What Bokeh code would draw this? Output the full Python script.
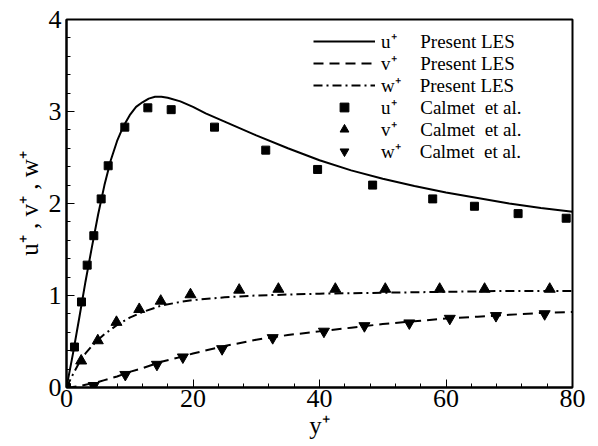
from bokeh.plotting import figure
from bokeh.models import Range1d, SingleIntervalTicker, Legend, LegendItem
from bokeh.embed import file_html
from bokeh.resources import INLINE

# ---- data ----
les_y = [0, 1, 2, 3, 4, 5, 6, 7, 8, 9, 10, 11, 12, 13, 14, 15, 16, 18, 20, 22, 25,
         30, 35, 40, 45, 50, 55, 60, 65, 70, 75, 80]
les_u = [0, 0.36, 0.75, 1.15, 1.52, 1.88, 2.20, 2.47, 2.68, 2.84, 2.96, 3.05, 3.10,
         3.14, 3.16, 3.16, 3.15, 3.11, 3.05, 2.98, 2.89, 2.74, 2.60, 2.47, 2.36,
         2.27, 2.19, 2.12, 2.06, 2.00, 1.95, 1.91]

les_vw_y = [0, 1, 2, 3, 4, 5, 6, 8, 10, 12, 15, 18, 20, 25, 30, 35, 40, 45, 50, 55,
            60, 65, 70, 75, 80]
les_dash = [0, 0.005, 0.015, 0.03, 0.045, 0.06, 0.08, 0.12, 0.17, 0.21, 0.28, 0.33,
            0.37, 0.45, 0.52, 0.57, 0.61, 0.65, 0.69, 0.72, 0.75, 0.77, 0.79, 0.81, 0.82]
les_dashdot = [0, 0.14, 0.27, 0.37, 0.45, 0.52, 0.58, 0.68, 0.76, 0.82, 0.89, 0.93,
               0.95, 0.98, 1.00, 1.01, 1.02, 1.025, 1.03, 1.035, 1.04, 1.045, 1.05,
               1.05, 1.05]

cal_u_y = [0, 1.26, 2.37, 3.27, 4.32, 5.48, 6.59, 9.22, 12.86, 16.55, 23.4, 31.5,
           39.7, 48.4, 57.9, 64.5, 71.4, 79.0]
cal_u = [0, 0.44, 0.93, 1.33, 1.65, 2.05, 2.41, 2.83, 3.04, 3.02, 2.83, 2.58, 2.37,
         2.20, 2.05, 1.97, 1.89, 1.84]

cal_v_y = [2.32, 4.95, 7.9, 11.5, 14.9, 19.6, 27.3, 33.5, 42.5, 50.4, 59.0, 66.1, 76.4]
cal_v = [0.29, 0.51, 0.71, 0.85, 0.94, 1.01, 1.06, 1.07, 1.07, 1.07, 1.07, 1.07, 1.07]

cal_w_y = [4.3, 9.3, 14.3, 18.4, 24.6, 32.6, 40.7, 47.1, 54.2, 60.6, 67.9, 75.6]
cal_w = [0.02, 0.14, 0.25, 0.33, 0.42, 0.54, 0.61, 0.67, 0.70, 0.75, 0.78, 0.80]

x_ticks_interval = 20
y_ticks_interval = 1

SUP = "\u207a"
NB = "\u00a0"
labels = [
    "u" + SUP + NB * 5 + "Present LES",
    "v" + SUP + NB * 5 + "Present LES",
    "w" + SUP + NB * 4 + "Present LES",
    "u" + SUP + NB * 5 + "Calmet" + NB * 2 + "et al.",
    "v" + SUP + NB * 5 + "Calmet" + NB * 2 + "et al.",
    "w" + SUP + NB * 4 + "Calmet" + NB * 2 + "et al.",
]

FONT = "Liberation Serif"

p = figure(width=598, height=446, output_backend="svg", toolbar_location=None,
           x_range=Range1d(0, 80), y_range=Range1d(0, 4))
p.min_border_left = 66
p.min_border_right = 26
p.min_border_top = 19
p.min_border_bottom = 59
p.xgrid.visible = False
p.ygrid.visible = False
p.outline_line_color = "black"
p.outline_line_width = 2
p.background_fill_color = "white"
p.border_fill_color = "white"

p.xaxis.ticker = SingleIntervalTicker(interval=x_ticks_interval, num_minor_ticks=5)
p.yaxis.ticker = SingleIntervalTicker(interval=y_ticks_interval, num_minor_ticks=5)

for ax in (p.xaxis[0], p.yaxis[0]):
    ax.axis_line_width = 2
    ax.axis_line_color = "black"
    ax.major_tick_in = 8
    ax.major_tick_out = 0
    ax.minor_tick_in = 4
    ax.minor_tick_out = 0
    ax.major_tick_line_color = "black"
    ax.minor_tick_line_color = "black"
    ax.major_label_text_font = FONT
    ax.major_label_text_font_size = "26px"
    ax.major_label_text_color = "black"
    ax.axis_label_text_font = FONT
    ax.axis_label_text_font_size = "25px"
    ax.axis_label_text_font_style = "normal"
    ax.axis_label_text_color = "black"

p.xaxis.axis_label = "y" + SUP
p.yaxis.axis_label = "u" + SUP + " , v" + SUP + " , w" + SUP
p.xaxis.major_label_standoff = 2
p.yaxis.major_label_standoff = 5
p.xaxis.axis_label_standoff = 2
p.yaxis.axis_label_standoff = 3

r1 = p.line(les_y, les_u, line_color="black", line_width=2)
r2 = p.line(les_vw_y, les_dash, line_color="black", line_width=2, line_dash="10 6")
r3 = p.line(les_vw_y, les_dashdot, line_color="black", line_width=2, line_dash="9 4 2 4")
r4 = p.scatter(cal_u_y, cal_u, marker="square", size=8, fill_color="black", line_color="black")
r5 = p.scatter(cal_v_y, cal_v, marker="triangle", size=11, fill_color="black", line_color="black")
r6 = p.scatter(cal_w_y, cal_w, marker="inverted_triangle", size=11, fill_color="black", line_color="black")

# one legend per row so the row pitch matches the reference
ROW_H = 22
PITCH = 22
for i, (lab, rend) in enumerate(zip(labels, [r1, r2, r3, r4, r5, r6])):
    center_from_top = 24 + PITCH * i       # row centre, px below frame top
    loc_y = 368 - center_from_top - ROW_H // 2
    lg = Legend(items=[LegendItem(label=lab, renderers=[rend])], location=(247, loc_y))
    lg.padding = 0
    lg.margin = 0
    lg.spacing = 0
    lg.glyph_width = 62
    lg.glyph_height = ROW_H
    lg.label_height = ROW_H
    lg.label_standoff = 6
    lg.label_text_font = FONT
    lg.label_text_font_size = "19px"
    lg.label_text_color = "black"
    lg.border_line_alpha = 0
    lg.background_fill_alpha = 0
    p.add_layout(lg)

open("out.html", "w").write(file_html(p, INLINE))
